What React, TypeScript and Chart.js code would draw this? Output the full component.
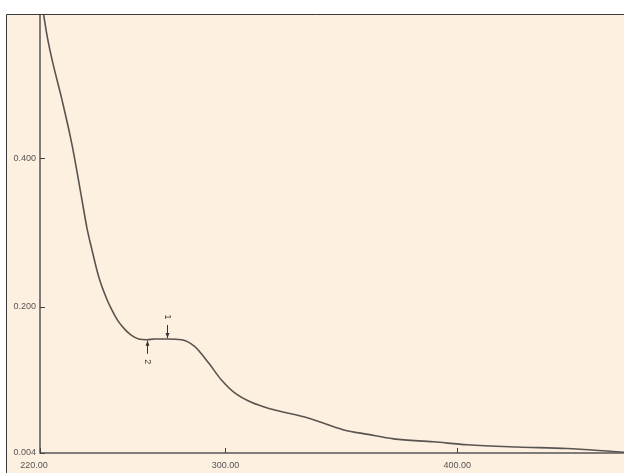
import React, { useEffect, useRef } from "react";
import { Chart, registerables } from "chart.js";

Chart.register(...registerables);

const wavelengths = [221.6, 223.0, 225.2, 229.5, 233.8, 238.1, 240.2, 242.4, 245.4, 248.9, 251.0, 253.5, 256.6, 259.5, 262.6, 266.1, 269.5, 274.6, 281.1, 286.7, 292.7, 298.3, 303.9, 311.2, 319.8, 335.7, 351.1, 361.5, 372.6, 389.8, 404.4, 425.9, 447.4, 467.2, 472];
const absorbance = [0.592, 0.565, 0.532, 0.478, 0.418, 0.344, 0.307, 0.277, 0.24, 0.21, 0.196, 0.182, 0.17, 0.162, 0.157, 0.156, 0.157, 0.157, 0.156, 0.147, 0.125, 0.102, 0.085, 0.072, 0.063, 0.051, 0.035, 0.029, 0.023, 0.019, 0.015, 0.012, 0.01, 0.006, 0.005];

const xTicks = [220, 300, 400];
const yTicks = [0.004, 0.2, 0.4];

const markerLabels = ["1", "2"];
const markerX = [274.6, 266.1];
const markerY = [0.157, 0.156];
const markerDir = ["down", "up"];

const framePlugin = {
  id: "frame",
  beforeDraw(chart: any) {
    const ctx = chart.ctx;
    ctx.save();
    ctx.fillStyle = "#ffffff";
    ctx.fillRect(0, 0, chart.width, chart.height);
    ctx.fillStyle = "#fdf0e0";
    ctx.fillRect(6, 14, chart.width - 6, chart.height - 14);
    ctx.strokeStyle = "#3a3a3a";
    ctx.lineWidth = 1;
    ctx.beginPath();
    ctx.moveTo(6.5, chart.height);
    ctx.lineTo(6.5, 14.5);
    ctx.lineTo(chart.width, 14.5);
    ctx.stroke();
    ctx.restore();
  },
  afterDraw(chart: any) {
    const ctx = chart.ctx;
    const xs = chart.scales.x;
    const ys = chart.scales.y;
    const area = chart.chartArea;
    ctx.save();
    ctx.strokeStyle = "#555555";
    ctx.lineWidth = 1.5;
    ctx.beginPath();
    ctx.moveTo(area.left, area.top);
    ctx.lineTo(area.left, area.bottom);
    ctx.lineTo(area.right, area.bottom);
    ctx.stroke();
    ctx.lineWidth = 1;
    ctx.strokeStyle = "#444";
    xTicks.forEach((v) => {
      const px = Math.round(xs.getPixelForValue(v)) + 0.5;
      ctx.beginPath();
      ctx.moveTo(px, area.bottom);
      ctx.lineTo(px, area.bottom - 5);
      ctx.stroke();
    });
    yTicks.forEach((v) => {
      const py = Math.round(ys.getPixelForValue(v)) + 0.5;
      ctx.beginPath();
      ctx.moveTo(area.left, py);
      ctx.lineTo(area.left + 5, py);
      ctx.stroke();
    });
    // x tick labels
    ctx.fillStyle = "#555";
    ctx.font = "9px 'Liberation Sans', Arial, sans-serif";
    ctx.textAlign = "center";
    ctx.textBaseline = "top";
    xTicks.forEach((v, i) => {
      const px = xs.getPixelForValue(v) - (i === 0 ? 6 : 0);
      ctx.fillText(v.toFixed(2), px, area.bottom + 8);
    });
    // markers
    ctx.fillStyle = "#333";
    ctx.strokeStyle = "#333";
    markerLabels.forEach((lab, i) => {
      const px = Math.round(xs.getPixelForValue(markerX[i])) + 0.5;
      const py = ys.getPixelForValue(markerY[i]);
      const dir = markerDir[i] === "down" ? -1 : 1;
      const tip = py + dir * 1;
      const tail = py + dir * 14;
      ctx.beginPath();
      ctx.moveTo(px, tail);
      ctx.lineTo(px, tip);
      ctx.stroke();
      ctx.beginPath();
      ctx.moveTo(px, tip);
      ctx.lineTo(px - 2, tip + dir * 5);
      ctx.lineTo(px + 2, tip + dir * 5);
      ctx.closePath();
      ctx.fill();
      ctx.save();
      ctx.translate(px, py + dir * 22);
      ctx.rotate(Math.PI / 2);
      ctx.textAlign = "center";
      ctx.textBaseline = "middle";
      ctx.fillText(lab, 0, 0);
      ctx.restore();
    });
    ctx.restore();
  },
};

export default function App() {
  const ref = useRef<HTMLCanvasElement | null>(null);
  useEffect(() => {
    if (!ref.current) return;
    const data = wavelengths.map((w, i) => ({ x: w, y: absorbance[i] }));
    const chart = new Chart(ref.current, {
      type: "line",
      data: {
        datasets: [
          {
            data,
            borderColor: "#5a5450",
            borderWidth: 1.6,
            pointRadius: 0,
            cubicInterpolationMode: "monotone",
            fill: false,
          },
        ],
      },
      options: {
        animation: false,
        responsive: false,
        maintainAspectRatio: false,
        layout: { padding: { top: 15, right: 0, left: 6, bottom: 0 } },
        plugins: { legend: { display: false }, tooltip: { enabled: false } },
        scales: {
          x: {
            type: "linear",
            min: 220,
            max: 472,
            grid: { display: false, drawTicks: false },
            border: { display: false },
            afterBuildTicks: (s: any) => {
              s.ticks = xTicks.map((v) => ({ value: v }));
            },
            afterFit: (s: any) => {
              s.height = 20;
            },
            ticks: { display: false },
          },
          y: {
            type: "linear",
            min: 0.004,
            max: 0.592,
            grid: { display: false, drawTicks: false },
            border: { display: false },
            afterBuildTicks: (s: any) => {
              s.ticks = yTicks.map((v) => ({ value: v }));
            },
            afterFit: (s: any) => {
              s.width = 34;
            },
            ticks: {
              autoSkip: false,
              padding: 4,
              color: "#555",
              font: { family: "'Liberation Sans', Arial, sans-serif", size: 9 },
              callback: (v: any) => Number(v).toFixed(3),
            },
          },
        },
      },
      plugins: [framePlugin],
    } as any);
    return () => chart.destroy();
  }, []);
  return (
    <div style={{ position: "fixed", left: 0, top: 0, width: 624, height: 473 }}>
      <canvas ref={ref} width={624} height={473} style={{ width: 624, height: 473, display: "block" }} />
    </div>
  );
}
